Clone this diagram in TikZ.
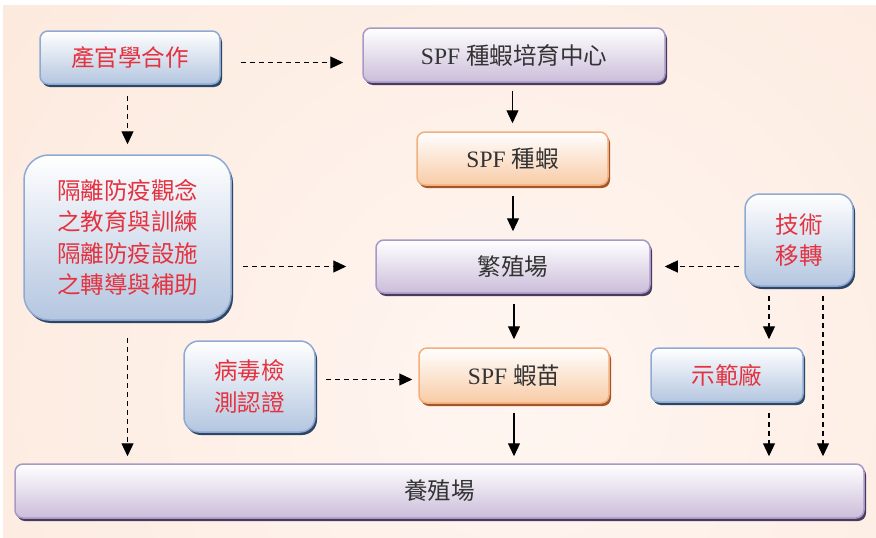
\documentclass[tikz,border=0pt]{standalone}
\usepackage{fontspec}
\setmainfont{Liberation Serif}
\newfontfamily\cjk{Noto Sans CJK TC}
\usetikzlibrary{arrows.meta,shadows}
\definecolor{bgin}{HTML}{FFF6F1}
\definecolor{bgout}{HTML}{FBE2D2}
\definecolor{bluef}{HTML}{B4C6E0}
\definecolor{blueb}{HTML}{8EAAD2}
\definecolor{blues}{HTML}{2E4666}
\definecolor{purf}{HTML}{CBBDDA}
\definecolor{purb}{HTML}{A898C6}
\definecolor{purs}{HTML}{4A3A5E}
\definecolor{orf}{HTML}{F8CBA6}
\definecolor{orb}{HTML}{F2AE7C}
\definecolor{ors}{HTML}{A4562A}
\definecolor{redt}{HTML}{E4323F}
\definecolor{grayt}{HTML}{333333}
\begin{document}
\begin{tikzpicture}[x=1pt,y=-1pt,
  box/.style={rounded corners=8pt, line width=1.5pt, inner sep=0pt, align=center,
    font=\fontsize{23.5}{31.5}\selectfont},
  bluebox/.style={box, draw=blueb, top color=white, bottom color=bluef, text=redt,
    drop shadow={shadow xshift=2pt, shadow yshift=-3pt, fill=blues, opacity=1}},
  purbox/.style={box, draw=purb, top color=white, bottom color=purf, text=grayt,
    drop shadow={shadow xshift=2pt, shadow yshift=-3pt, fill=purs, opacity=1}},
  orbox/.style={box, draw=orb, top color=white, bottom color=orf, text=grayt,
    drop shadow={shadow xshift=2pt, shadow yshift=-3pt, fill=ors, opacity=1}},
  sarr/.style={line width=1.2pt, -{Triangle[length=13pt,width=12pt]}},
  darr/.style={line width=1.2pt, dash pattern=on 5pt off 4pt, -{Triangle[length=13pt,width=12pt]}}
]
\useasboundingbox (0,0) rectangle (876,538);
\fill[white] (0,0) rectangle (876,538);
\begin{scope}
\clip (3,5) rectangle (876,538);
\shade[inner color=bgin, outer color=bgout] (520,390) circle (1050);
\end{scope}

\node[bluebox, minimum width=180, minimum height=53] (a) at (130,57.5) {\cjk 產官學合作};
\node[purbox, minimum width=302, minimum height=54] (b) at (514,55) {SPF {\cjk 種蝦培育中心}};
\node[orbox, minimum width=191, minimum height=53] (c) at (512.5,158.5) {SPF {\cjk 種蝦}};
\node[bluebox, rounded corners=25pt, minimum width=207, minimum height=165] (d) at (127.5,237.5)
  {\cjk 隔離防疫觀念\\\cjk 之教育與訓練\\\cjk 隔離防疫設施\\\cjk 之轉導與補助};
\node[purbox, minimum width=274, minimum height=53] (e) at (513,266.5) {\cjk 繁殖場};
\node[bluebox, rounded corners=15pt, minimum width=108, minimum height=92] (f) at (799,240)
  {\cjk 技術\\\cjk 移轉};
\node[bluebox, rounded corners=15pt, minimum width=131, minimum height=91] (g) at (249.5,386.5)
  {\cjk 病毒檢\\\cjk 測認證};
\node[orbox, minimum width=190, minimum height=55] (h) at (514,375.5) {SPF {\cjk 蝦苗}};
\node[bluebox, minimum width=152, minimum height=54] (i) at (727,375) {\cjk 示範廠};
\node[purbox, minimum width=849, minimum height=54] (j) at (439.5,491) {\cjk 養殖場};

\draw[darr, shorten <=20pt, shorten >=19pt] ([yshift=-5pt]a.east) -- ([yshift=-5pt]a.east -| b.west);
\draw[darr, shorten <=11pt, shorten >=10pt] (a.south -| d.north) -- (d.north);
\draw[sarr, shorten <=8pt, shorten >=8pt] (b.south -| c.north) -- (c.north);
\draw[sarr, shorten <=10pt, shorten >=8pt] (c.south -| e.north) -- (e.north);
\draw[darr, shorten <=11pt, shorten >=29pt] (e.west -| d.east) -- (e.west);
\draw[darr, shorten <=5pt, shorten >=14pt] (e.east -| f.west) -- (e.east);
\draw[sarr, shorten <=10pt, shorten >=8pt] (e.south -| h.north) -- (h.north);
\draw[darr, shorten <=10pt, shorten >=6pt] ([yshift=-4pt]h.west -| g.east) -- ([yshift=-4pt]h.west);
\draw[darr, shorten <=9pt, shorten >=8pt] ([xshift=-30pt]f.south) -- ([xshift=-30pt]f.south |- i.north);
\draw[darr, shorten <=9pt, shorten >=7pt] ([xshift=24pt]f.south) -- ([xshift=24pt]f.south |- j.north);
\draw[darr, shorten <=10pt, shorten >=7pt] ([xshift=42pt]i.south) -- ([xshift=42pt]i.south |- j.north);
\draw[sarr, shorten <=9pt, shorten >=7pt] (h.south) -- (h.south |- j.north);
\draw[darr, shorten <=17pt, shorten >=7pt] (d.south) -- (d.south |- j.north);
\end{tikzpicture}
\end{document}
